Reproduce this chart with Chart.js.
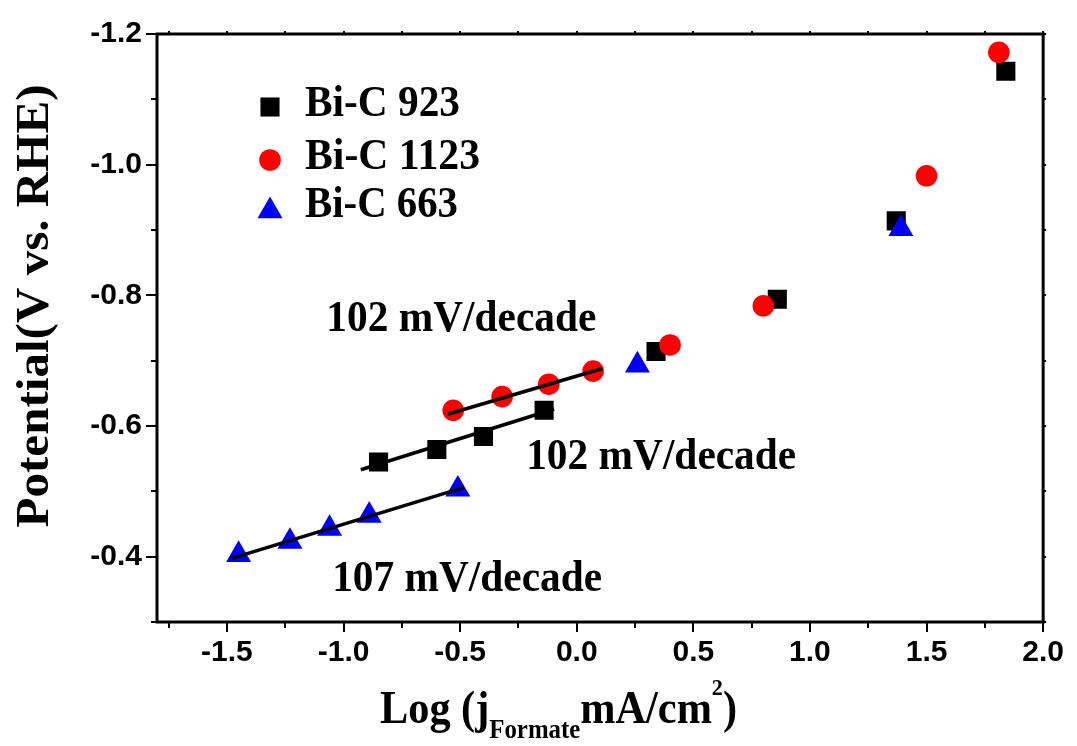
<!DOCTYPE html>
<html>
<head>
<meta charset="utf-8">
<script src="https://cdn.jsdelivr.net/npm/chart.js@4.4.1/dist/chart.umd.min.js"></script>
<style>
  html, body { margin: 0; padding: 0; background: #fff; }
  #wrap { width: 1077px; height: 746px; }
</style>
</head>
<body>
<div id="wrap"><canvas id="myChart" width="1077" height="746"></canvas></div>
<script>
/* datos */
const nombres = ["Bi-C 923", "Bi-C 1123", "Bi-C 663"];

const x923 = [-0.85, -0.60, -0.40, -0.14, 0.34, 0.86, 1.37, 1.84];
const y923 = [-0.545, -0.564, -0.584, -0.624, -0.714, -0.794, -0.914, -1.143];

const x1123 = [-0.53, -0.32, -0.12, 0.07, 0.40, 0.80, 1.50, 1.81];
const y1123 = [-0.624, -0.645, -0.664, -0.684, -0.724, -0.784, -0.983, -1.172];

const x663 = [-1.45, -1.23, -1.06, -0.89, -0.51, 0.26, 1.39];
const y663 = [-0.403, -0.423, -0.443, -0.463, -0.503, -0.693, -0.902];

/* rectas de Tafel (extremos) */
const ajuste1123X = [-0.554, 0.110];
const ajuste1123Y = [-0.618, -0.688];
const ajuste923X = [-0.926, -0.097];
const ajuste923Y = [-0.533, -0.626];
const ajuste663X = [-1.483, -0.483];
const ajuste663Y = [-0.397, -0.506];

/* pendientes: texto y posicion en unidades de datos */
const pendientesTexto = ["102 mV/decade", "102 mV/decade", "107 mV/decade"];
const pendientesX = [-1.074, -0.217, -1.049];
const pendientesY = [-0.745, -0.534, -0.348];

/* ticks */
const xTicks = [-1.75, -1.5, -1.25, -1.0, -0.75, -0.5, -0.25, 0.0, 0.25, 0.5, 0.75, 1.0, 1.25, 1.5, 1.75, 2.0];
const xTicksMayores = [-1.5, -1.0, -0.5, 0.0, 0.5, 1.0, 1.5, 2.0];
const yTicks = [-1.2, -1.1, -1.0, -0.9, -0.8, -0.7, -0.6, -0.5, -0.4, -0.3];
const yTicksMayores = [-1.2, -1.0, -0.8, -0.6, -0.4];

function pares(xs, ys) {
  return xs.map((x, i) => ({ x: x, y: ys[i] }));
}

function esMayor(lista, v) {
  return lista.some(m => Math.abs(m - v) < 1e-6);
}

const serif = '"Liberation Serif", "Times New Roman", serif';

/* texto ajustado a un ancho dado */
function textoAjustado(ctx, texto, x, y, font, ancho) {
  ctx.save();
  ctx.font = font;
  const w = ctx.measureText(texto).width;
  ctx.translate(x, y);
  ctx.scale(ancho / w, 1);
  ctx.textAlign = "left";
  ctx.textBaseline = "alphabetic";
  ctx.fillText(texto, 0, 0);
  ctx.restore();
}

const pluginDecoracion = {
  id: "decoracion",
  afterDatasetsDraw(chart) {
    const ctx = chart.ctx;
    const area = chart.chartArea;
    const sx = chart.scales.x;
    const sy = chart.scales.y;
    ctx.save();
    ctx.strokeStyle = "#000";
    ctx.fillStyle = "#000";

    // marco
    ctx.lineWidth = 3;
    ctx.strokeRect(area.left, area.top, area.right - area.left, area.bottom - area.top);

    // ticks
    ctx.lineWidth = 2;
    ctx.beginPath();
    xTicks.forEach(v => {
      const px = Math.round(sx.getPixelForValue(v));
      const largo = esMayor(xTicksMayores, v) ? 10 : 6;
      ctx.moveTo(px, area.bottom);
      ctx.lineTo(px, area.bottom + largo);
      ctx.moveTo(px, area.top);
      ctx.lineTo(px, area.top - 3);
    });
    yTicks.forEach(v => {
      const py = Math.round(sy.getPixelForValue(v));
      const largo = esMayor(yTicksMayores, v) ? 11 : 6;
      ctx.moveTo(area.left, py);
      ctx.lineTo(area.left - largo, py);
      ctx.moveTo(area.right, py);
      ctx.lineTo(area.right + 3, py);
    });
    ctx.stroke();

    // textos de pendiente
    pendientesTexto.forEach((t, i) => {
      textoAjustado(ctx, t, sx.getPixelForValue(pendientesX[i]), sy.getPixelForValue(pendientesY[i]),
        "bold 45px " + serif, 270);
    });

    // leyenda
    const leyendaX = 270;
    const leyendaY = [107, 160, 208];
    const leyendaAnchos = [155, 175, 153];
    const series = chart.data.datasets.filter(d => d.esSerie);
    nombres.forEach((nombre, i) => {
      const ds = series.find(d => d.label === nombre);
      ctx.fillStyle = ds.backgroundColor;
      Chart.helpers.drawPoint(ctx, {
        pointStyle: ds.pointStyle,
        radius: ds.pointRadius,
        rotation: 0,
        borderWidth: 0
      }, leyendaX, leyendaY[i] + (ds.pointStyle === "triangle" ? 3 : 0));
      ctx.fillStyle = "#000";
      textoAjustado(ctx, nombre, 305, leyendaY[i] + 9, "bold 45px " + serif, leyendaAnchos[i]);
    });

    // titulo eje X con subindice y superindice
    const partes = [
      { t: "Log (j", f: "bold 46px " + serif, dy: 0 },
      { t: "Formate", f: "bold 27px " + serif, dy: 15 },
      { t: "mA/cm", f: "bold 46px " + serif, dy: 0 },
      { t: "2", f: "bold 24px " + serif, dy: -28 },
      { t: ")", f: "bold 46px " + serif, dy: 0 }
    ];
    let total = 0;
    partes.forEach(p => { ctx.font = p.f; p.w = ctx.measureText(p.t).width; total += p.w; });
    const escala = 357 / total;
    let cx = 380;
    const base = 723;
    partes.forEach(p => {
      textoAjustado(ctx, p.t, cx, base + p.dy, p.f, p.w * escala);
      cx += p.w * escala;
    });

    // titulo eje Y
    ctx.save();
    ctx.translate(48, 306);
    ctx.rotate(-Math.PI / 2);
    ctx.font = "bold 46px " + serif;
    const wy = ctx.measureText("Potential(V vs. RHE)").width;
    ctx.scale(443 / wy, 1);
    ctx.textAlign = "center";
    ctx.textBaseline = "alphabetic";
    ctx.fillText("Potential(V vs. RHE)", 0, 0);
    ctx.restore();

    ctx.restore();
  }
};

function prepararConfig() {
  const datasets = [
    {
      label: "Bi-C 923", esSerie: true, data: pares(x923, y923),
      pointStyle: "rect", pointRadius: 13.5, backgroundColor: "#000000",
      borderWidth: 0, order: 3
    },
    {
      label: "Bi-C 1123", esSerie: true, data: pares(x1123, y1123),
      pointStyle: "circle", pointRadius: 10.8, backgroundColor: "#ff0000",
      borderWidth: 0, order: 2
    },
    {
      label: "Bi-C 663", esSerie: true, data: pares(x663, y663),
      pointStyle: "triangle", pointRadius: 14.4, backgroundColor: "#0000ff",
      borderWidth: 0, order: 1
    }
  ];
  const ajustes = [
    pares(ajuste1123X, ajuste1123Y),
    pares(ajuste923X, ajuste923Y),
    pares(ajuste663X, ajuste663Y)
  ];
  ajustes.forEach(a => {
    datasets.push({
      label: "ajuste", data: a, showLine: true, pointRadius: 0,
      borderColor: "#000", borderWidth: 3.5, order: 0
    });
  });

  return {
    type: "scatter",
    data: { datasets: datasets },
    options: {
      responsive: false,
      animation: false,
      layout: { padding: { top: 34, right: 30, left: 0, bottom: 0 } },
      plugins: {
        legend: { display: false },
        tooltip: { enabled: false }
      },
      scales: {
        x: {
          type: "linear",
          min: -1.8,
          max: 2.0,
          grid: { display: false, drawTicks: false },
          border: { display: false },
          afterBuildTicks: (scale) => { scale.ticks = xTicks.map(v => ({ value: v })); },
          afterFit: (scale) => { scale.height = 124; },
          ticks: {
            autoSkip: false,
            maxRotation: 0,
            padding: 13,
            color: "#000",
            font: { family: '"Liberation Sans", Arial, sans-serif', size: 30, weight: "bold" },
            callback: (v) => esMayor(xTicksMayores, v) ? Number(v).toFixed(1) : ""
          }
        },
        y: {
          type: "linear",
          reverse: true,
          min: -1.2,
          max: -0.3,
          grid: { display: false, drawTicks: false },
          border: { display: false },
          afterBuildTicks: (scale) => { scale.ticks = yTicks.map(v => ({ value: v })); },
          afterFit: (scale) => { scale.width = 157; },
          ticks: {
            autoSkip: false,
            padding: 15,
            color: "#000",
            font: { family: '"Liberation Sans", Arial, sans-serif', size: 30, weight: "bold" },
            callback: (v) => esMayor(yTicksMayores, v) ? Number(v).toFixed(1) : ""
          }
        }
      }
    },
    plugins: [pluginDecoracion]
  };
}

new Chart(document.getElementById("myChart"), prepararConfig());
</script>
</body>
</html>
